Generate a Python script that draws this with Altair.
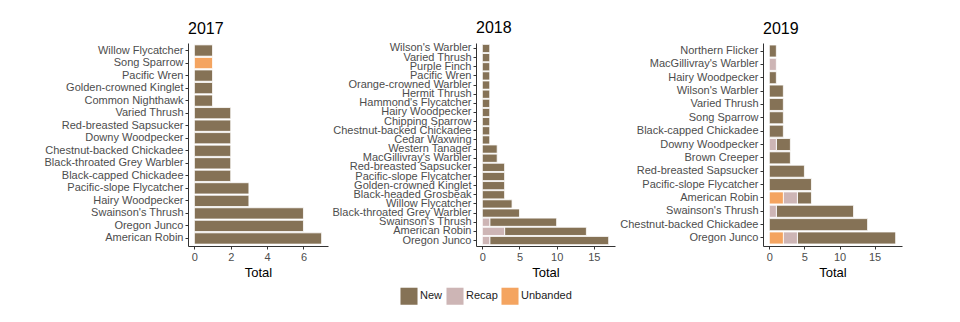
import altair as alt
import pandas as pd

# ---- data ----
years = ["2017", "2018", "2019"]

sp17 = ["Willow Flycatcher", "Song Sparrow", "Pacific Wren", "Golden-crowned Kinglet",
        "Common Nighthawk", "Varied Thrush", "Red-breasted Sapsucker", "Downy Woodpecker",
        "Chestnut-backed Chickadee", "Black-throated Grey Warbler", "Black-capped Chickadee",
        "Pacific-slope Flycatcher", "Hairy Woodpecker", "Swainson's Thrush", "Oregon Junco",
        "American Robin"]
new17 = [1, 0, 1, 1, 1, 2, 2, 2, 2, 2, 2, 3, 3, 6, 6, 7]
recap17 = [0] * 16
unb17 = [0, 1, 0, 0, 0, 0, 0, 0, 0, 0, 0, 0, 0, 0, 0, 0]

sp18 = ["Wilson's Warbler", "Varied Thrush", "Purple Finch", "Pacific Wren",
        "Orange-crowned Warbler", "Hermit Thrush", "Hammond's Flycatcher", "Hairy Woodpecker",
        "Chipping Sparrow", "Chestnut-backed Chickadee", "Cedar Waxwing", "Western Tanager",
        "MacGillivray's Warbler", "Red-breasted Sapsucker", "Pacific-slope Flycatcher",
        "Golden-crowned Kinglet", "Black-headed Grosbeak", "Willow Flycatcher",
        "Black-throated Grey Warbler", "Swainson's Thrush", "American Robin", "Oregon Junco"]
new18 = [1, 1, 1, 1, 1, 1, 1, 1, 1, 1, 1, 2, 2, 3, 3, 3, 3, 4, 5, 9, 11, 16]
recap18 = [0] * 19 + [1, 3, 1]
unb18 = [0] * 22

sp19 = ["Northern Flicker", "MacGillivray's Warbler", "Hairy Woodpecker", "Wilson's Warbler",
        "Varied Thrush", "Song Sparrow", "Black-capped Chickadee", "Downy Woodpecker",
        "Brown Creeper", "Red-breasted Sapsucker", "Pacific-slope Flycatcher", "American Robin",
        "Swainson's Thrush", "Chestnut-backed Chickadee", "Oregon Junco"]
new19 = [1, 0, 1, 2, 2, 2, 2, 2, 3, 5, 6, 2, 11, 14, 14]
recap19 = [0, 1, 0, 0, 0, 0, 0, 1, 0, 0, 0, 2, 1, 0, 2]
unb19 = [0, 0, 0, 0, 0, 0, 0, 0, 0, 0, 0, 2, 0, 0, 2]

statuses = ["New", "Recap", "Unbanded"]
colors = ["#857256", "#CDB5B5", "#F4A460"]
stack_rank = {"Unbanded": 0, "Recap": 1, "New": 2}

x_ticks = [[0, 2, 4, 6], [0, 5, 10, 15], [0, 5, 10, 15]]
x_domains = [[-0.35, 7.35], [-0.85, 17.85], [-0.9, 18.9]]
panel_widths = [140, 139, 139]
y_extents = [180, 141, 139]

FONT = "Liberation Sans"


def make_df(sp, new, recap, unb):
    rows = []
    for s, a, b, c in zip(sp, new, recap, unb):
        for status, v in (("New", a), ("Recap", b), ("Unbanded", c)):
            if v > 0:
                rows.append({"Species": s, "Status": status, "Count": v,
                             "rank": stack_rank[status]})
    return pd.DataFrame(rows)


datasets = [
    (sp17, make_df(sp17, new17, recap17, unb17)),
    (sp18, make_df(sp18, new18, recap18, unb18)),
    (sp19, make_df(sp19, new19, recap19, unb19)),
]

panels = []
for i, (sp, df) in enumerate(datasets):
    c = alt.Chart(df).mark_bar(stroke="white", strokeWidth=0.8).encode(
        x=alt.X("sum(Count):Q",
                title="Total",
                scale=alt.Scale(domain=x_domains[i], nice=False, zero=False),
                axis=alt.Axis(values=x_ticks[i], grid=False)),
        y=alt.Y("Species:N", sort=sp, title=None,
                scale=alt.Scale(paddingInner=0.1, paddingOuter=0.15),
                axis=alt.Axis(minExtent=y_extents[i], maxExtent=y_extents[i])),
        color=alt.Color("Status:N",
                        scale=alt.Scale(domain=statuses, range=colors),
                        legend=alt.Legend(title=None, orient="none", direction="horizontal",
                                          legendX=212, legendY=244,
                                          symbolType="square", symbolSize=290,
                                          symbolStrokeWidth=0, labelFontSize=11,
                                          labelFont=FONT, columnPadding=3,
                                          labelOffset=2, symbolOpacity=1)),
        order=alt.Order("rank:Q", sort="ascending"),
    ).properties(
        width=panel_widths[i], height=203,
        title=alt.TitleParams(years[i], anchor="start", frame="group", fontSize=16,
                              font=FONT, fontWeight="normal", color="black", offset=6)
    )
    panels.append(c)

chart = alt.hconcat(*panels, spacing=4).properties(
    padding={"left": 0, "top": 11, "right": 5, "bottom": 5}
).configure_view(stroke=None).configure_axis(
    labelFont=FONT, labelFontSize=11, labelColor="#4D4D4D",
    titleFont=FONT, titleFontSize=13, titleColor="black", titleFontWeight="normal",
    domainColor="#333333", tickColor="#333333", tickSize=3, labelPadding=2,
    domainWidth=1
).configure_axisY(labelLimit=200).configure_legend(
    labelColor="#222222"
)

chart.save("out.html", embed_options={"renderer": "svg", "actions": False})
